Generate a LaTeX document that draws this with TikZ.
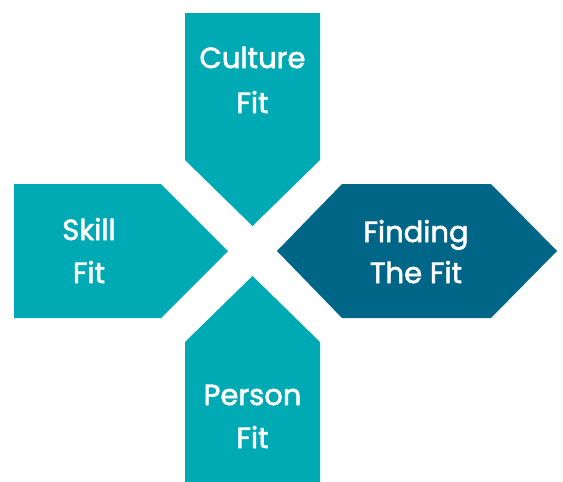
\documentclass[tikz,border=0pt]{standalone}
\usepackage{fontspec}
\setmainfont{Poppins}
\newfontfamily\lblfont{Poppins}[FakeBold=2]
\definecolor{tealc}{HTML}{00AAB5}
\definecolor{darkc}{HTML}{006688}
\begin{document}
\begin{tikzpicture}[x=1pt,y=-1pt,
  lbl/.style={text=white,font=\lblfont\fontsize{29}{30}\selectfont,anchor=base,inner sep=0pt}]
\useasboundingbox (0,0) rectangle (563,482);
% Culture Fit (top)
\fill[tealc] (185,13) -- (320,13) -- (320,160) -- (252.5,226) -- (185,160) -- cycle;
% Skill Fit (left)
\fill[tealc] (14,184) -- (161,184) -- (228,251) -- (161,318) -- (14,318) -- cycle;
% Finding The Fit (right)
\fill[darkc] (277,251) -- (342,184) -- (491,184) -- (557,251) -- (491,318) -- (342,318) -- cycle;
% Person Fit (bottom)
\fill[tealc] (252.5,276) -- (320,342) -- (320,482) -- (185,482) -- (185,342) -- cycle;
\node[lbl] (cult1) at (252.5,68) {Culture};
\node[lbl] (cult2) at (252.5,113) {Fit};
\node[lbl] (skill1) at (89,240) {Skill};
\node[lbl] (skill2) at (89,283) {Fit};
\node[lbl] (find1) at (416,242) {Finding};
\node[lbl] (find2) at (416,283) {The Fit};
\node[lbl] (pers1) at (252.5,405) {Person};
\node[lbl] (pers2) at (252.5,448) {Fit};
\end{tikzpicture}
\end{document}
